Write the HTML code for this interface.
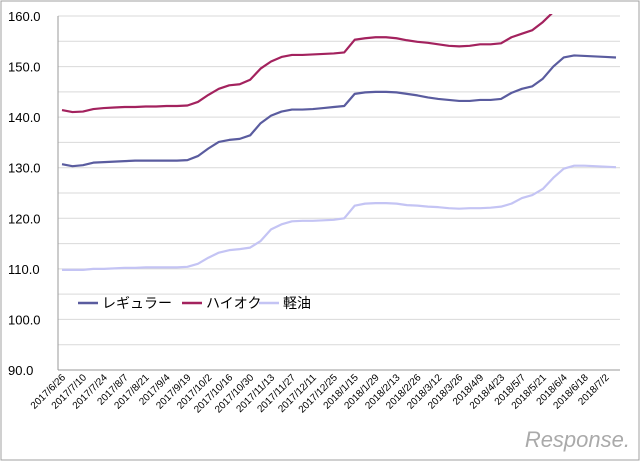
<!DOCTYPE html>
<html><head><meta charset="utf-8"><style>
body{margin:0;background:#fff}
svg{display:block;font-family:"Liberation Sans","Noto Sans CJK JP",sans-serif}
</style></head><body>
<svg id="chart" width="640" height="461">
<rect x="1" y="1" width="638" height="459" fill="#fff" stroke="#a0a0a0"/>
<defs><clipPath id="pc"><rect x="58" y="14" width="565" height="358"/></clipPath></defs>
<g id="grid"></g><g id="ylab"></g><g id="xlab"></g><g id="series" clip-path="url(#pc)"></g>
<g id="legend">
<line x1="78" y1="303" x2="98" y2="303" stroke="#5a5c9f" stroke-width="2.5"/>
<text x="102" y="308" font-size="14">レギュラー</text>
<line x1="182" y1="303" x2="202" y2="303" stroke="#a3225e" stroke-width="2.5"/>
<text x="206" y="308" font-size="14">ハイオク</text>
<line x1="259" y1="303" x2="279" y2="303" stroke="#c4c4f4" stroke-width="2.5"/>
<text x="283" y="308" font-size="14">軽油</text>
</g>
<text x="630" y="447" text-anchor="end" font-size="22" fill="#aaa" font-style="italic">Response.</text>
</svg>
<script>
const dateLabels=["2017/6/26","2017/7/10","2017/7/24","2017/8/7","2017/8/21","2017/9/4","2017/9/19","2017/10/2","2017/10/16","2017/10/30","2017/11/13","2017/11/27","2017/12/11","2017/12/25","2018/1/15","2018/1/29","2018/2/13","2018/2/26","2018/3/12","2018/3/26","2018/4/9","2018/4/23","2018/5/7","2018/5/21","2018/6/4","2018/6/18","2018/7/2"];
const yTicks=[90,100,110,120,130,140,150,160];
const regular=[130.7,130.3,130.5,131.0,131.1,131.2,131.3,131.4,131.4,131.4,131.4,131.4,131.5,132.3,133.8,135.1,135.5,135.7,136.4,138.8,140.3,141.1,141.5,141.5,141.6,141.8,142.0,142.2,144.6,144.9,145.0,145.0,144.9,144.6,144.3,143.9,143.6,143.4,143.2,143.2,143.4,143.4,143.6,144.8,145.6,146.1,147.6,150.0,151.8,152.2,152.1,152.0,151.9,151.8];
const highOctane=[141.4,141.0,141.1,141.6,141.8,141.9,142.0,142.0,142.1,142.1,142.2,142.2,142.3,143.0,144.4,145.6,146.3,146.5,147.4,149.6,151.0,151.9,152.3,152.3,152.4,152.5,152.6,152.8,155.3,155.6,155.8,155.8,155.6,155.2,154.9,154.7,154.4,154.1,154.0,154.1,154.4,154.4,154.6,155.8,156.5,157.2,158.8,160.8,162.5,163.0,163.0,162.9,162.8,162.7];
const diesel=[109.8,109.8,109.8,110.0,110.0,110.1,110.2,110.2,110.3,110.3,110.3,110.3,110.4,111.0,112.2,113.2,113.7,113.9,114.2,115.5,117.8,118.8,119.4,119.5,119.5,119.6,119.7,120.0,122.5,122.9,123.0,123.0,122.9,122.6,122.5,122.3,122.2,122.0,121.9,122.0,122.0,122.1,122.3,122.9,124.0,124.6,125.8,128.0,129.8,130.4,130.4,130.3,130.2,130.1];
const NS="http://www.w3.org/2000/svg";
const n=regular.length;
const X=i=>62+i*(616-62)/(n-1);
const Y=v=>16+(160-v)*(370-16)/70;
function mk(t,a,p){const e=document.createElementNS(NS,t);for(const k in a)e.setAttribute(k,a[k]);p.appendChild(e);return e;}
const grid=document.getElementById('grid');
for(let v=90;v<=160;v+=5){
 const l=mk('line',{x1:58,x2:620,y1:Y(v),y2:Y(v),stroke:v===90?'#999':'#d9d9d9','stroke-width':1},grid);
 
 
}
const ax=mk('line',{x1:58,x2:58,y1:16,y2:370,stroke:'#999'},grid);


const yl=document.getElementById('ylab');
yTicks.forEach(v=>{const t=mk('text',{x:8,y:Y(v)+5,'font-size':13},yl);t.textContent=v.toFixed(1);
 
 });
const xl=document.getElementById('xlab');
dateLabels.forEach((d,k)=>{const x=X(k*2)+4,y=378;
 const t=mk('text',{x:x,y:y,'font-size':10,'text-anchor':'end',transform:`rotate(-45 ${x} ${y})`},xl);t.textContent=d;
 
 });
const sg=document.getElementById('series');
[[regular,'#5a5c9f','regular-line'],[highOctane,'#a3225e','high-octane-line'],[diesel,'#c4c4f4','diesel-line']].forEach(([d,c,nm])=>{
 const p=mk('polyline',{points:d.map((v,i)=>X(i)+','+Y(v)).join(' '),fill:'none',stroke:c,'stroke-width':2.2,'stroke-linejoin':'round'},sg);
 
 
});
</script>
</body></html>
